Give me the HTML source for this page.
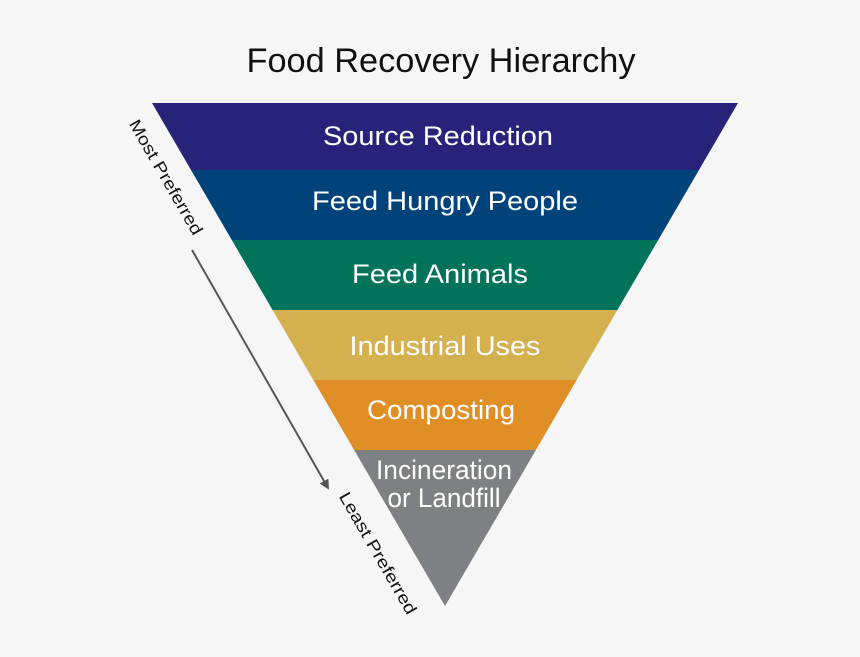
<!DOCTYPE html>
<html><head><meta charset="utf-8"><style>
html,body{margin:0;padding:0;background:#f6f6f6;}
svg{display:block;}
text{font-family:"Liberation Sans",sans-serif;}
</style></head><body>
<svg width="860" height="657" viewBox="0 0 860 657" xmlns="http://www.w3.org/2000/svg">
<rect width="860" height="657" fill="#f6f6f6"/>
<defs>
<clipPath id="tri"><polygon points="152,103 738,103 445,606"/></clipPath>
<marker id="ah" markerWidth="10" markerHeight="10" refX="8" refY="5" orient="auto" markerUnits="userSpaceOnUse">
<path d="M0,0 L10,5 L0,10 z" fill="#555"/></marker>
</defs>
<text x="441" y="72" font-size="34" text-anchor="middle" fill="#111" textLength="389" lengthAdjust="spacingAndGlyphs">Food Recovery Hierarchy</text>
<g clip-path="url(#tri)">
<rect x="100" y="103" width="700" height="67" fill="#27237a"/>
<rect x="100" y="170" width="700" height="70" fill="#00427a"/>
<rect x="100" y="240" width="700" height="70" fill="#00735a"/>
<rect x="100" y="310" width="700" height="70" fill="#d4b04f"/>
<rect x="100" y="380" width="700" height="70" fill="#e08f27"/>
<rect x="100" y="450" width="700" height="160" fill="#7f8083"/>
</g>
<g fill="#fff" font-size="27" text-anchor="middle">
<text x="438" y="145" textLength="230" lengthAdjust="spacingAndGlyphs">Source Reduction</text>
<text x="445" y="210" textLength="266" lengthAdjust="spacingAndGlyphs">Feed Hungry People</text>
<text x="440" y="283" textLength="176" lengthAdjust="spacingAndGlyphs">Feed Animals</text>
<text x="445" y="355" textLength="191" lengthAdjust="spacingAndGlyphs">Industrial Uses</text>
<text x="441" y="419" textLength="148" lengthAdjust="spacingAndGlyphs">Composting</text>
<text x="444" y="479" textLength="136" lengthAdjust="spacingAndGlyphs">Incineration</text>
<text x="444" y="507" textLength="113" lengthAdjust="spacingAndGlyphs">or Landfill</text>
</g>
<line x1="192" y1="250" x2="328" y2="488" stroke="#555" stroke-width="2" marker-end="url(#ah)"/>
<text font-size="17" fill="#111" text-anchor="middle" transform="translate(161,180) rotate(60)" textLength="130" lengthAdjust="spacingAndGlyphs">Most Preferred</text>
<text font-size="17" fill="#111" text-anchor="middle" transform="translate(373,556) rotate(60)" textLength="138" lengthAdjust="spacingAndGlyphs">Least Preferred</text>
</svg>
</body></html>
